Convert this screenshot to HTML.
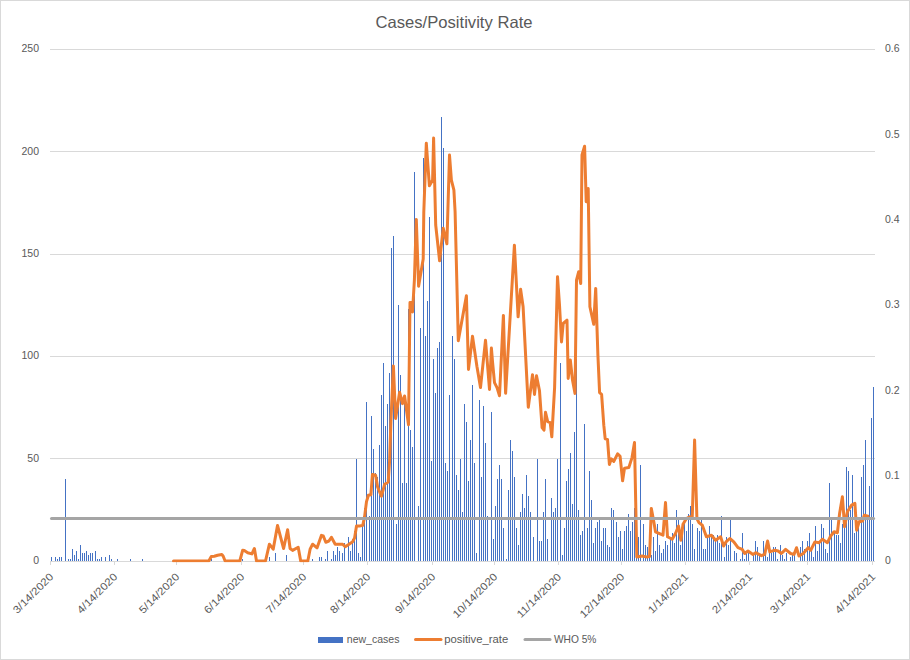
<!DOCTYPE html><html><head><meta charset="utf-8"><title>Cases/Positivity Rate</title>
<style>html,body{margin:0;padding:0;background:#fff;}svg{display:block;}text{font-family:"Liberation Sans",sans-serif;fill:#595959;}</style></head><body>
<svg width="910" height="660" viewBox="0 0 910 660">
<rect x="0" y="0" width="910" height="660" fill="#fff"/>
<rect x="0.5" y="0.5" width="909" height="659" fill="none" stroke="#D9D9D9" stroke-width="1"/>
<g shape-rendering="crispEdges" fill="#D9D9D9">
<rect x="50" y="49" width="825" height="1"/>
<rect x="50" y="151" width="825" height="1"/>
<rect x="50" y="254" width="825" height="1"/>
<rect x="50" y="356" width="825" height="1"/>
<rect x="50" y="458" width="825" height="1"/>
<rect x="50" y="561" width="1" height="4"/>
<rect x="114" y="561" width="1" height="4"/>
<rect x="176" y="561" width="1" height="4"/>
<rect x="241" y="561" width="1" height="4"/>
<rect x="303" y="561" width="1" height="4"/>
<rect x="367" y="561" width="1" height="4"/>
<rect x="432" y="561" width="1" height="4"/>
<rect x="494" y="561" width="1" height="4"/>
<rect x="558" y="561" width="1" height="4"/>
<rect x="621" y="561" width="1" height="4"/>
<rect x="685" y="561" width="1" height="4"/>
<rect x="749" y="561" width="1" height="4"/>
<rect x="807" y="561" width="1" height="4"/>
<rect x="872" y="561" width="1" height="4"/>
</g>
<g shape-rendering="crispEdges" fill="#4472C4">
<rect x="51" y="557.1" width="1" height="3.9"/>
<rect x="55" y="557.1" width="1" height="3.9"/>
<rect x="57" y="559.2" width="1" height="1.8"/>
<rect x="59" y="557.1" width="1" height="3.9"/>
<rect x="61" y="557.1" width="1" height="3.9"/>
<rect x="65" y="479.3" width="1" height="81.7"/>
<rect x="68" y="559.2" width="1" height="1.8"/>
<rect x="70" y="559.2" width="1" height="1.8"/>
<rect x="72" y="548.9" width="1" height="12.1"/>
<rect x="74" y="555.1" width="1" height="5.9"/>
<rect x="76" y="551.0" width="1" height="10.0"/>
<rect x="78" y="559.2" width="1" height="1.8"/>
<rect x="80" y="544.8" width="1" height="16.2"/>
<rect x="82" y="553.0" width="1" height="8.0"/>
<rect x="84" y="553.0" width="1" height="8.0"/>
<rect x="86" y="551.0" width="1" height="10.0"/>
<rect x="88" y="555.1" width="1" height="5.9"/>
<rect x="90" y="553.0" width="1" height="8.0"/>
<rect x="92" y="553.0" width="1" height="8.0"/>
<rect x="95" y="551.0" width="1" height="10.0"/>
<rect x="97" y="559.2" width="1" height="1.8"/>
<rect x="99" y="559.2" width="1" height="1.8"/>
<rect x="101" y="557.1" width="1" height="3.9"/>
<rect x="105" y="557.1" width="1" height="3.9"/>
<rect x="109" y="555.1" width="1" height="5.9"/>
<rect x="111" y="559.2" width="1" height="1.8"/>
<rect x="117" y="559.2" width="1" height="1.8"/>
<rect x="130" y="559.2" width="1" height="1.8"/>
<rect x="142" y="559.2" width="1" height="1.8"/>
<rect x="211" y="559.2" width="1" height="1.8"/>
<rect x="242" y="559.2" width="1" height="1.8"/>
<rect x="269" y="557.1" width="1" height="3.9"/>
<rect x="275" y="553.0" width="1" height="8.0"/>
<rect x="286" y="555.1" width="1" height="5.9"/>
<rect x="312" y="559.2" width="1" height="1.8"/>
<rect x="319" y="557.1" width="1" height="3.9"/>
<rect x="321" y="557.1" width="1" height="3.9"/>
<rect x="325" y="559.2" width="1" height="1.8"/>
<rect x="327" y="551.0" width="1" height="10.0"/>
<rect x="331" y="559.2" width="1" height="1.8"/>
<rect x="333" y="551.0" width="1" height="10.0"/>
<rect x="335" y="555.1" width="1" height="5.9"/>
<rect x="337" y="546.9" width="1" height="14.1"/>
<rect x="339" y="551.0" width="1" height="10.0"/>
<rect x="342" y="553.0" width="1" height="8.0"/>
<rect x="344" y="542.8" width="1" height="18.2"/>
<rect x="348" y="536.6" width="1" height="24.4"/>
<rect x="350" y="551.0" width="1" height="10.0"/>
<rect x="352" y="538.7" width="1" height="22.3"/>
<rect x="354" y="530.5" width="1" height="30.5"/>
<rect x="356" y="458.8" width="1" height="102.2"/>
<rect x="358" y="553.0" width="1" height="8.0"/>
<rect x="360" y="557.1" width="1" height="3.9"/>
<rect x="362" y="526.4" width="1" height="34.6"/>
<rect x="364" y="508.0" width="1" height="53.0"/>
<rect x="366" y="401.5" width="1" height="159.5"/>
<rect x="369" y="516.2" width="1" height="44.8"/>
<rect x="371" y="415.8" width="1" height="145.2"/>
<rect x="373" y="448.6" width="1" height="112.4"/>
<rect x="375" y="473.2" width="1" height="87.8"/>
<rect x="377" y="477.3" width="1" height="83.7"/>
<rect x="379" y="444.5" width="1" height="116.5"/>
<rect x="381" y="395.4" width="1" height="165.6"/>
<rect x="383" y="362.6" width="1" height="198.4"/>
<rect x="385" y="426.1" width="1" height="134.9"/>
<rect x="387" y="403.6" width="1" height="157.4"/>
<rect x="389" y="372.9" width="1" height="188.1"/>
<rect x="391" y="248.0" width="1" height="313.0"/>
<rect x="393" y="235.7" width="1" height="325.3"/>
<rect x="396" y="524.4" width="1" height="36.6"/>
<rect x="398" y="305.3" width="1" height="255.7"/>
<rect x="400" y="374.9" width="1" height="186.1"/>
<rect x="402" y="483.4" width="1" height="77.6"/>
<rect x="404" y="399.5" width="1" height="161.5"/>
<rect x="406" y="483.4" width="1" height="77.6"/>
<rect x="408" y="309.4" width="1" height="251.6"/>
<rect x="410" y="430.2" width="1" height="130.8"/>
<rect x="412" y="446.6" width="1" height="114.4"/>
<rect x="414" y="172.2" width="1" height="388.8"/>
<rect x="418" y="505.9" width="1" height="55.1"/>
<rect x="420" y="327.8" width="1" height="233.2"/>
<rect x="423" y="157.9" width="1" height="403.1"/>
<rect x="425" y="336.0" width="1" height="225.0"/>
<rect x="427" y="301.2" width="1" height="259.8"/>
<rect x="429" y="217.3" width="1" height="343.7"/>
<rect x="431" y="460.9" width="1" height="100.1"/>
<rect x="433" y="358.5" width="1" height="202.5"/>
<rect x="435" y="393.3" width="1" height="167.7"/>
<rect x="437" y="348.3" width="1" height="212.7"/>
<rect x="439" y="342.1" width="1" height="218.9"/>
<rect x="441" y="117.0" width="1" height="444.0"/>
<rect x="443" y="147.7" width="1" height="413.3"/>
<rect x="445" y="462.9" width="1" height="98.1"/>
<rect x="447" y="471.1" width="1" height="89.9"/>
<rect x="449" y="395.4" width="1" height="165.6"/>
<rect x="452" y="336.0" width="1" height="225.0"/>
<rect x="454" y="358.5" width="1" height="202.5"/>
<rect x="456" y="475.2" width="1" height="85.8"/>
<rect x="458" y="489.5" width="1" height="71.5"/>
<rect x="460" y="458.8" width="1" height="102.2"/>
<rect x="462" y="512.1" width="1" height="48.9"/>
<rect x="464" y="403.6" width="1" height="157.4"/>
<rect x="466" y="422.0" width="1" height="139.0"/>
<rect x="468" y="481.4" width="1" height="79.6"/>
<rect x="470" y="440.4" width="1" height="120.6"/>
<rect x="472" y="385.1" width="1" height="175.9"/>
<rect x="474" y="462.9" width="1" height="98.1"/>
<rect x="476" y="553.0" width="1" height="8.0"/>
<rect x="479" y="399.5" width="1" height="161.5"/>
<rect x="481" y="477.3" width="1" height="83.7"/>
<rect x="483" y="405.6" width="1" height="155.4"/>
<rect x="485" y="442.5" width="1" height="118.5"/>
<rect x="487" y="516.2" width="1" height="44.8"/>
<rect x="491" y="411.8" width="1" height="149.2"/>
<rect x="493" y="538.7" width="1" height="22.3"/>
<rect x="495" y="505.9" width="1" height="55.1"/>
<rect x="497" y="479.3" width="1" height="81.7"/>
<rect x="499" y="465.0" width="1" height="96.0"/>
<rect x="501" y="479.3" width="1" height="81.7"/>
<rect x="503" y="528.4" width="1" height="32.6"/>
<rect x="506" y="559.2" width="1" height="1.8"/>
<rect x="508" y="489.5" width="1" height="71.5"/>
<rect x="510" y="440.4" width="1" height="120.6"/>
<rect x="512" y="450.7" width="1" height="110.3"/>
<rect x="514" y="477.3" width="1" height="83.7"/>
<rect x="516" y="528.4" width="1" height="32.6"/>
<rect x="518" y="544.8" width="1" height="16.2"/>
<rect x="520" y="512.1" width="1" height="48.9"/>
<rect x="522" y="493.6" width="1" height="67.4"/>
<rect x="524" y="508.0" width="1" height="53.0"/>
<rect x="526" y="475.2" width="1" height="85.8"/>
<rect x="528" y="495.7" width="1" height="65.3"/>
<rect x="530" y="512.1" width="1" height="48.9"/>
<rect x="533" y="536.6" width="1" height="24.4"/>
<rect x="537" y="458.8" width="1" height="102.2"/>
<rect x="539" y="540.7" width="1" height="20.3"/>
<rect x="541" y="540.7" width="1" height="20.3"/>
<rect x="543" y="512.1" width="1" height="48.9"/>
<rect x="545" y="479.3" width="1" height="81.7"/>
<rect x="547" y="538.7" width="1" height="22.3"/>
<rect x="551" y="497.7" width="1" height="63.3"/>
<rect x="553" y="512.1" width="1" height="48.9"/>
<rect x="555" y="508.0" width="1" height="53.0"/>
<rect x="557" y="458.8" width="1" height="102.2"/>
<rect x="560" y="362.6" width="1" height="198.4"/>
<rect x="562" y="555.1" width="1" height="5.9"/>
<rect x="564" y="528.4" width="1" height="32.6"/>
<rect x="566" y="481.4" width="1" height="79.6"/>
<rect x="568" y="469.1" width="1" height="91.9"/>
<rect x="570" y="452.7" width="1" height="108.3"/>
<rect x="572" y="503.9" width="1" height="57.1"/>
<rect x="574" y="432.2" width="1" height="128.8"/>
<rect x="576" y="358.5" width="1" height="202.5"/>
<rect x="578" y="510.0" width="1" height="51.0"/>
<rect x="580" y="534.6" width="1" height="26.4"/>
<rect x="582" y="530.5" width="1" height="30.5"/>
<rect x="584" y="424.0" width="1" height="137.0"/>
<rect x="587" y="528.4" width="1" height="32.6"/>
<rect x="589" y="471.1" width="1" height="89.9"/>
<rect x="591" y="499.8" width="1" height="61.2"/>
<rect x="593" y="542.8" width="1" height="18.2"/>
<rect x="595" y="528.4" width="1" height="32.6"/>
<rect x="597" y="522.3" width="1" height="38.7"/>
<rect x="599" y="520.3" width="1" height="40.7"/>
<rect x="601" y="540.7" width="1" height="20.3"/>
<rect x="603" y="528.4" width="1" height="32.6"/>
<rect x="605" y="528.4" width="1" height="32.6"/>
<rect x="607" y="544.8" width="1" height="16.2"/>
<rect x="609" y="546.9" width="1" height="14.1"/>
<rect x="611" y="508.0" width="1" height="53.0"/>
<rect x="613" y="510.0" width="1" height="51.0"/>
<rect x="616" y="522.3" width="1" height="38.7"/>
<rect x="618" y="536.6" width="1" height="24.4"/>
<rect x="620" y="530.5" width="1" height="30.5"/>
<rect x="622" y="548.9" width="1" height="12.1"/>
<rect x="624" y="530.5" width="1" height="30.5"/>
<rect x="626" y="526.4" width="1" height="34.6"/>
<rect x="628" y="514.1" width="1" height="46.9"/>
<rect x="630" y="530.5" width="1" height="30.5"/>
<rect x="632" y="522.3" width="1" height="38.7"/>
<rect x="634" y="508.0" width="1" height="53.0"/>
<rect x="636" y="540.7" width="1" height="20.3"/>
<rect x="638" y="536.6" width="1" height="24.4"/>
<rect x="640" y="465.0" width="1" height="96.0"/>
<rect x="643" y="524.4" width="1" height="36.6"/>
<rect x="645" y="544.8" width="1" height="16.2"/>
<rect x="647" y="546.9" width="1" height="14.1"/>
<rect x="649" y="551.0" width="1" height="10.0"/>
<rect x="651" y="555.1" width="1" height="5.9"/>
<rect x="653" y="536.6" width="1" height="24.4"/>
<rect x="655" y="551.0" width="1" height="10.0"/>
<rect x="657" y="524.4" width="1" height="36.6"/>
<rect x="659" y="544.8" width="1" height="16.2"/>
<rect x="661" y="553.0" width="1" height="8.0"/>
<rect x="663" y="548.9" width="1" height="12.1"/>
<rect x="665" y="540.7" width="1" height="20.3"/>
<rect x="667" y="544.8" width="1" height="16.2"/>
<rect x="670" y="536.6" width="1" height="24.4"/>
<rect x="672" y="532.5" width="1" height="28.5"/>
<rect x="674" y="542.8" width="1" height="18.2"/>
<rect x="676" y="510.0" width="1" height="51.0"/>
<rect x="678" y="520.3" width="1" height="40.7"/>
<rect x="680" y="544.8" width="1" height="16.2"/>
<rect x="682" y="534.6" width="1" height="26.4"/>
<rect x="684" y="520.3" width="1" height="40.7"/>
<rect x="686" y="530.5" width="1" height="30.5"/>
<rect x="688" y="514.1" width="1" height="46.9"/>
<rect x="690" y="505.9" width="1" height="55.1"/>
<rect x="692" y="524.4" width="1" height="36.6"/>
<rect x="694" y="548.9" width="1" height="12.1"/>
<rect x="697" y="528.4" width="1" height="32.6"/>
<rect x="699" y="530.5" width="1" height="30.5"/>
<rect x="701" y="520.3" width="1" height="40.7"/>
<rect x="703" y="548.9" width="1" height="12.1"/>
<rect x="705" y="548.9" width="1" height="12.1"/>
<rect x="707" y="536.6" width="1" height="24.4"/>
<rect x="709" y="526.4" width="1" height="34.6"/>
<rect x="711" y="534.6" width="1" height="26.4"/>
<rect x="713" y="534.6" width="1" height="26.4"/>
<rect x="715" y="540.7" width="1" height="20.3"/>
<rect x="717" y="534.6" width="1" height="26.4"/>
<rect x="719" y="542.8" width="1" height="18.2"/>
<rect x="721" y="516.2" width="1" height="44.8"/>
<rect x="724" y="557.1" width="1" height="3.9"/>
<rect x="726" y="536.6" width="1" height="24.4"/>
<rect x="728" y="544.8" width="1" height="16.2"/>
<rect x="730" y="520.3" width="1" height="40.7"/>
<rect x="734" y="551.0" width="1" height="10.0"/>
<rect x="736" y="553.0" width="1" height="8.0"/>
<rect x="740" y="559.2" width="1" height="1.8"/>
<rect x="742" y="532.5" width="1" height="28.5"/>
<rect x="744" y="559.2" width="1" height="1.8"/>
<rect x="746" y="553.0" width="1" height="8.0"/>
<rect x="748" y="553.0" width="1" height="8.0"/>
<rect x="753" y="555.1" width="1" height="5.9"/>
<rect x="755" y="540.7" width="1" height="20.3"/>
<rect x="757" y="546.9" width="1" height="14.1"/>
<rect x="759" y="555.1" width="1" height="5.9"/>
<rect x="763" y="540.7" width="1" height="20.3"/>
<rect x="765" y="555.1" width="1" height="5.9"/>
<rect x="767" y="557.1" width="1" height="3.9"/>
<rect x="769" y="553.0" width="1" height="8.0"/>
<rect x="771" y="553.0" width="1" height="8.0"/>
<rect x="773" y="546.9" width="1" height="14.1"/>
<rect x="775" y="546.9" width="1" height="14.1"/>
<rect x="777" y="559.2" width="1" height="1.8"/>
<rect x="780" y="544.8" width="1" height="16.2"/>
<rect x="782" y="555.1" width="1" height="5.9"/>
<rect x="784" y="559.2" width="1" height="1.8"/>
<rect x="786" y="553.0" width="1" height="8.0"/>
<rect x="790" y="557.1" width="1" height="3.9"/>
<rect x="792" y="555.1" width="1" height="5.9"/>
<rect x="794" y="555.1" width="1" height="5.9"/>
<rect x="800" y="546.9" width="1" height="14.1"/>
<rect x="802" y="540.7" width="1" height="20.3"/>
<rect x="804" y="548.9" width="1" height="12.1"/>
<rect x="807" y="540.7" width="1" height="20.3"/>
<rect x="809" y="532.5" width="1" height="28.5"/>
<rect x="811" y="551.0" width="1" height="10.0"/>
<rect x="813" y="557.1" width="1" height="3.9"/>
<rect x="815" y="526.4" width="1" height="34.6"/>
<rect x="817" y="551.0" width="1" height="10.0"/>
<rect x="819" y="542.8" width="1" height="18.2"/>
<rect x="821" y="524.4" width="1" height="36.6"/>
<rect x="823" y="528.4" width="1" height="32.6"/>
<rect x="825" y="548.9" width="1" height="12.1"/>
<rect x="827" y="553.0" width="1" height="8.0"/>
<rect x="829" y="483.4" width="1" height="77.6"/>
<rect x="831" y="520.3" width="1" height="40.7"/>
<rect x="834" y="530.5" width="1" height="30.5"/>
<rect x="836" y="534.6" width="1" height="26.4"/>
<rect x="838" y="534.6" width="1" height="26.4"/>
<rect x="840" y="542.8" width="1" height="18.2"/>
<rect x="842" y="524.4" width="1" height="36.6"/>
<rect x="844" y="528.4" width="1" height="32.6"/>
<rect x="846" y="467.0" width="1" height="94.0"/>
<rect x="848" y="471.1" width="1" height="89.9"/>
<rect x="850" y="510.0" width="1" height="51.0"/>
<rect x="852" y="475.2" width="1" height="85.8"/>
<rect x="854" y="532.5" width="1" height="28.5"/>
<rect x="856" y="530.5" width="1" height="30.5"/>
<rect x="858" y="522.3" width="1" height="38.7"/>
<rect x="861" y="477.3" width="1" height="83.7"/>
<rect x="863" y="465.0" width="1" height="96.0"/>
<rect x="865" y="440.4" width="1" height="120.6"/>
<rect x="867" y="516.2" width="1" height="44.8"/>
<rect x="869" y="485.5" width="1" height="75.5"/>
<rect x="871" y="417.9" width="1" height="143.1"/>
<rect x="873" y="387.2" width="1" height="173.8"/>
</g>
<rect x="50" y="561" width="825" height="1" fill="#D9D9D9" shape-rendering="crispEdges"/>
<clipPath id="pc"><rect x="50" y="40" width="826" height="522.2"/></clipPath>
<polyline clip-path="url(#pc)" points="173.5,561 208.8,561 211.3,556.6 214.3,556.2 217.6,555.2 221.8,554.5 223.1,556 225.1,561 239.8,561 242.7,550.2 244.3,550.5 247.7,552.7 251.9,553.9 254.4,548.5 256.5,561 265.5,561 269.4,544.2 273.2,549.2 277.5,525.4 283.6,548.5 287.6,529.8 290.1,548.5 292.6,550.4 298.2,547.3 300.7,561 307.8,561 310.1,549.2 312.6,544.2 317,547.9 321.4,535.4 323.3,536 325.8,542.3 328.9,541 331.4,537.3 335.2,544.2 342.7,544.2 345.2,546.7 349,544.2 352.7,541.7 354.6,537.9 356.5,526 359.6,526 362.8,525.4 364.6,516.6 366.5,501.6 368.4,495.3 370.9,494.7 372.4,474.5 375.6,475.3 377.6,487 381.4,496.3 384.7,484.2 388.2,482 389.6,461 390.9,421.8 393.4,365.9 395.6,418.5 399.6,392.3 402.5,403.6 404.6,396 408.5,424.7 410,302.6 411.9,302.6 412.5,312 414.4,280 416.3,219.4 418.6,286.3 423.2,258.9 423.8,212 426.3,143.2 429.4,185.8 432.6,180.1 433.6,138.1 435.7,225 439.6,260.8 443.2,228.2 446.9,243.8 449.5,155.1 451.4,180.1 453.9,190.2 455.1,212 458.3,340.8 466.4,295.7 468.5,369.4 472.5,336.2 476.9,366.3 480.5,387.6 485.5,340.2 489.5,389.5 491.4,348 492.6,362.5 494.5,382.6 497,387.6 499.5,395.7 503.4,315.4 505.6,393.3 514.4,245.2 518.1,316.8 520.6,289.3 523.1,306.8 528.3,407.2 532.5,374.7 534.5,394.4 536.5,375.8 539.5,390.8 542.1,427.7 544,430.2 545.5,412.3 547.7,421.6 550.2,422.7 551.8,436.8 554.6,387.6 557.5,276.7 559.5,305 561.5,341.9 563.2,323.5 567,320.2 568.2,378.4 570.3,360 572.5,380 575.0,393.4 576.5,280.1 578.7,271.7 580.7,283.4 582,155 584.6,146.3 586.2,201.8 588.2,188.4 589.9,306.8 593.7,324.3 595.7,288.4 597.9,355 599.6,392.6 601.6,394.3 603.8,425.2 605.2,438.8 607.5,439.4 609.4,464.5 611.3,458.8 613.8,461.4 617.6,453.8 620.1,456.3 622.6,480.8 624.5,468.2 628.8,467.6 632,457.6 634.5,442.6 635.7,502 636.8,556.9 642.1,556 646.3,556.9 649.6,556.5 651.3,508.4 653.8,521.8 655.5,531.8 663,535.2 665.5,502.6 667.5,536.8 672.2,539.3 675.5,533.5 678.5,526 680.9,540.2 683,524.3 686.4,518.5 689.7,516.8 692.2,518.5 694.6,440 696.9,518.5 698.9,522.6 702.3,525.2 706.4,536.8 711.4,535.2 715.6,540.2 720.6,536.8 723.6,546 726,541.9 729.8,538.5 733.8,541.9 738,547.7 742.2,549.4 744.7,553.5 748,551 753,554.4 755.6,552.7 761.4,555.7 764.7,554.4 767.6,541 769.8,551.9 774.8,550.2 778.1,551 781.4,553.5 785.6,549.4 790.6,553.5 794,554.4 796.5,547.7 799,556 803.2,553.5 808.2,547.7 810.7,550.2 814.9,541.9 819,542.7 822.4,539.3 827.4,542.7 830.7,536 834.1,531.8 837.4,532.7 839.6,513.5 842.4,496.8 844.6,526.8 847.4,511.8 851.6,505.1 854.9,503.4 856.6,530.2 859.1,521.8 862.5,521 864.3,515.3 868,516.3" fill="none" stroke="#ED7D31" stroke-width="3" stroke-linejoin="round" stroke-linecap="round"/>
<line x1="51.5" y1="518.4" x2="873.6" y2="518.4" stroke="#A5A5A5" stroke-width="3" stroke-linecap="round"/>
<text x="454" y="28" font-size="16.5" text-anchor="middle" textLength="157" lengthAdjust="spacingAndGlyphs">Cases/Positivity Rate</text>
<text x="39" y="564.1" font-size="10.5" text-anchor="end">0</text>
<text x="39" y="461.7" font-size="10.5" text-anchor="end">50</text>
<text x="39" y="359.4" font-size="10.5" text-anchor="end">100</text>
<text x="39" y="257.0" font-size="10.5" text-anchor="end">150</text>
<text x="39" y="154.7" font-size="10.5" text-anchor="end">200</text>
<text x="39" y="52.3" font-size="10.5" text-anchor="end">250</text>
<text x="885" y="564.1" font-size="10.5">0</text>
<text x="885" y="478.8" font-size="10.5">0.1</text>
<text x="885" y="393.5" font-size="10.5">0.2</text>
<text x="885" y="308.2" font-size="10.5">0.3</text>
<text x="885" y="222.9" font-size="10.5">0.4</text>
<text x="885" y="137.6" font-size="10.5">0.5</text>
<text x="885" y="52.3" font-size="10.5">0.6</text>
<text transform="translate(54.0,577.5) rotate(-45)" font-size="10.5" text-anchor="end" textLength="52" lengthAdjust="spacingAndGlyphs">3/14/2020</text>
<text transform="translate(118.0,577.5) rotate(-45)" font-size="10.5" text-anchor="end" textLength="52" lengthAdjust="spacingAndGlyphs">4/14/2020</text>
<text transform="translate(180.0,577.5) rotate(-45)" font-size="10.5" text-anchor="end" textLength="52" lengthAdjust="spacingAndGlyphs">5/14/2020</text>
<text transform="translate(245.0,577.5) rotate(-45)" font-size="10.5" text-anchor="end" textLength="52" lengthAdjust="spacingAndGlyphs">6/14/2020</text>
<text transform="translate(307.0,577.5) rotate(-45)" font-size="10.5" text-anchor="end" textLength="52" lengthAdjust="spacingAndGlyphs">7/14/2020</text>
<text transform="translate(371.0,577.5) rotate(-45)" font-size="10.5" text-anchor="end" textLength="52" lengthAdjust="spacingAndGlyphs">8/14/2020</text>
<text transform="translate(436.0,577.5) rotate(-45)" font-size="10.5" text-anchor="end" textLength="52" lengthAdjust="spacingAndGlyphs">9/14/2020</text>
<text transform="translate(498.0,577.5) rotate(-45)" font-size="10.5" text-anchor="end" textLength="58" lengthAdjust="spacingAndGlyphs">10/14/2020</text>
<text transform="translate(562.0,577.5) rotate(-45)" font-size="10.5" text-anchor="end" textLength="58" lengthAdjust="spacingAndGlyphs">11/14/2020</text>
<text transform="translate(625.0,577.5) rotate(-45)" font-size="10.5" text-anchor="end" textLength="58" lengthAdjust="spacingAndGlyphs">12/14/2020</text>
<text transform="translate(689.0,577.5) rotate(-45)" font-size="10.5" text-anchor="end" textLength="52" lengthAdjust="spacingAndGlyphs">1/14/2021</text>
<text transform="translate(753.0,577.5) rotate(-45)" font-size="10.5" text-anchor="end" textLength="52" lengthAdjust="spacingAndGlyphs">2/14/2021</text>
<text transform="translate(811.0,577.5) rotate(-45)" font-size="10.5" text-anchor="end" textLength="52" lengthAdjust="spacingAndGlyphs">3/14/2021</text>
<text transform="translate(876.0,577.5) rotate(-45)" font-size="10.5" text-anchor="end" textLength="52" lengthAdjust="spacingAndGlyphs">4/14/2021</text>
<rect x="318" y="637" width="25" height="6" fill="#4472C4"/>
<text x="346.8" y="643" font-size="10.5" textLength="52.7" lengthAdjust="spacingAndGlyphs">new_cases</text>
<line x1="415.5" y1="639.5" x2="441" y2="639.5" stroke="#ED7D31" stroke-width="3" stroke-linecap="round"/>
<text x="444.2" y="643" font-size="10.5" textLength="64" lengthAdjust="spacingAndGlyphs">positive_rate</text>
<line x1="525" y1="639.5" x2="550" y2="639.5" stroke="#A5A5A5" stroke-width="3" stroke-linecap="round"/>
<text x="553.9" y="643" font-size="10.5" textLength="42.5" lengthAdjust="spacingAndGlyphs">WHO 5%</text>
</svg></body></html>
